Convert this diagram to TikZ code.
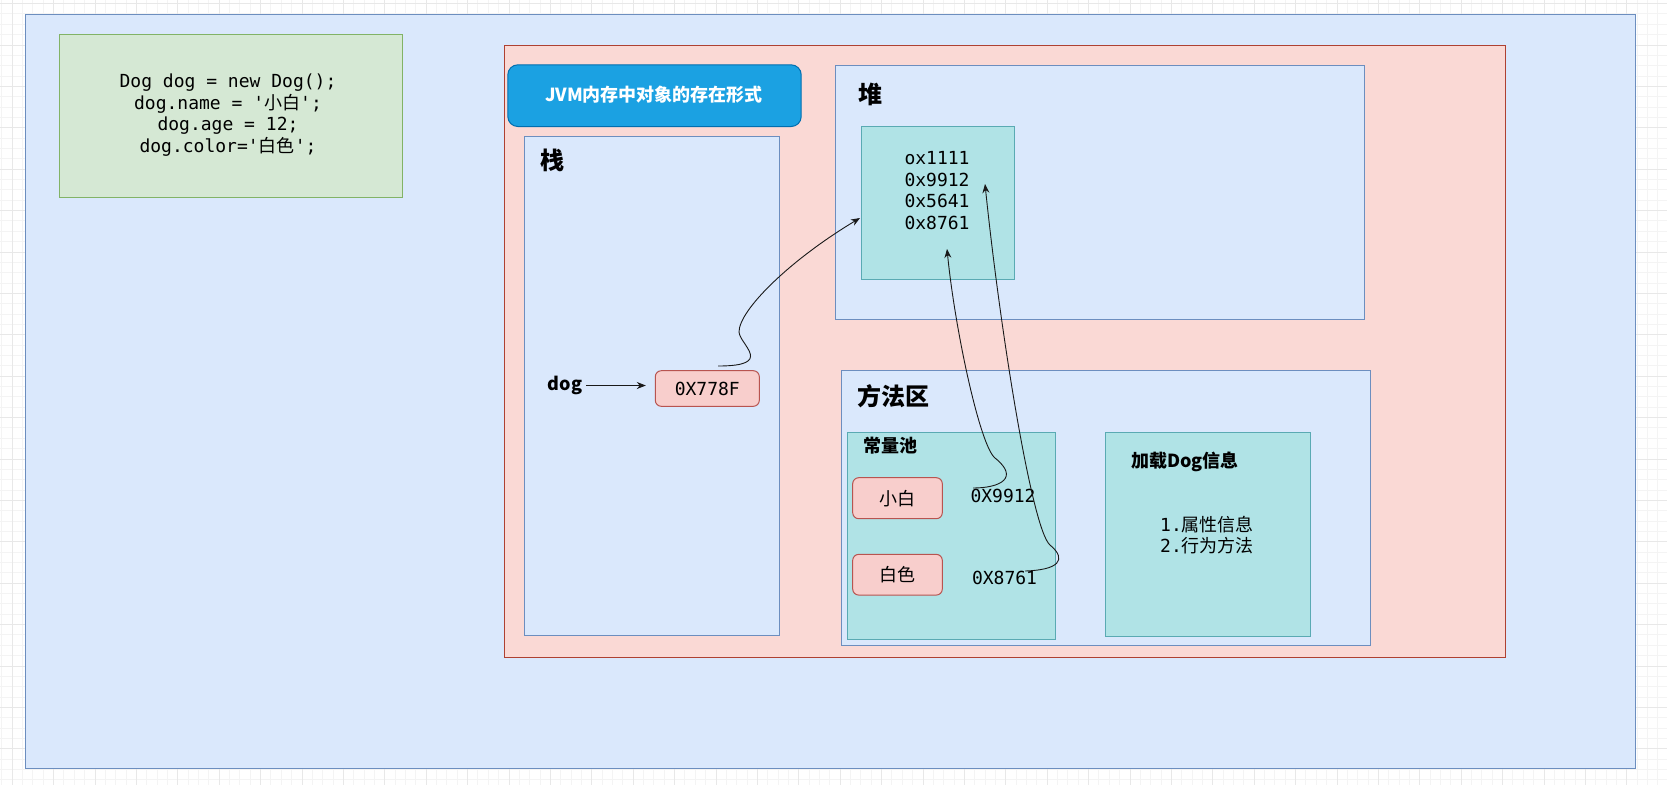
\documentclass[tikz,border=0pt]{standalone}
\usepackage{fontspec}
\usetikzlibrary{arrows.meta}
\newfontfamily\cjk{Noto Sans CJK SC}
\newfontfamily\mono{DejaVu Sans Mono}
\definecolor{outerfill}{HTML}{DAE8FC}
\definecolor{bluestroke}{HTML}{6C8EBF}
\definecolor{greenfill}{HTML}{D5E8D4}
\definecolor{greenstroke}{HTML}{82B366}
\definecolor{pinkfill}{HTML}{FAD9D5}
\definecolor{pinkstroke}{HTML}{AE4132}
\definecolor{rosefill}{HTML}{F8CECC}
\definecolor{rosestroke}{HTML}{B85450}
\definecolor{tealfill}{HTML}{B0E3E6}
\definecolor{tealstroke}{HTML}{5AAAB3}
\definecolor{btnfill}{HTML}{1BA1E2}
\definecolor{btnstroke}{HTML}{006EAF}
\definecolor{gridminor}{HTML}{F4F4F4}
\definecolor{gridmajor}{HTML}{E8E8E8}
\begin{document}
\begin{tikzpicture}[x=1pt,y=-1pt,
  area/.style={draw, line width=1pt, inner sep=0pt, anchor=north west},
  bluebox/.style={area, fill=outerfill, draw=bluestroke},
  tealbox/.style={area, fill=tealfill, draw=tealstroke},
  rosebox/.style={draw=rosestroke, fill=rosefill, line width=1pt, rounded corners=6pt, inner sep=0pt},
  codetxt/.style={font=\mono\fontsize{18}{21.8}\selectfont, align=center, inner sep=0pt},
  cjktxt/.style={font=\cjk\fontsize{18}{21.8}\selectfont, inner sep=0pt},
  boldtxt/.style={font=\cjk\bfseries\fontsize{18}{21.8}\selectfont, inner sep=0pt},
  bigtxt/.style={font=\cjk\bfseries\fontsize{24}{28}\selectfont, inner sep=0pt},
  conn/.style={draw=black!90, line width=0.9pt, -{Stealth[length=9pt,width=7pt]}}
]
\useasboundingbox (0,0) rectangle (1667,785);
\fill[white] (0,0) rectangle (1667,785);
% grid
\foreach \x in {1.75,12.1,...,1667} \draw[gridminor, line width=0.8pt] (\x,0) -- (\x,785);
\foreach \y in {3.5,13.85,...,785} \draw[gridminor, line width=0.8pt] (0,\y) -- (1667,\y);
\foreach \x in {12.1,53.5,...,1667} \draw[gridmajor, line width=0.8pt] (\x,0) -- (\x,785);
\foreach \y in {3.5,44.9,...,785} \draw[gridmajor, line width=0.8pt] (0,\y) -- (1667,\y);

% outer container
\node[bluebox, minimum width=1610.5pt, minimum height=754pt] (outer) at (24.5,13.5) {};
% code box
\node[area, fill=greenfill, draw=greenstroke, minimum width=343.5pt, minimum height=163pt] (code) at (58.5,34) {};
\node[codetxt] (codetext) at (228,115) {Dog dog = new Dog();\\dog.name = '{\cjk 小白}';\\dog.age = 12;\\dog.color='{\cjk 白色}';};

% JVM memory area
\node[area, fill=pinkfill, draw=pinkstroke, minimum width=1001.4pt, minimum height=612.4pt] (jvm) at (504,44.6) {};
\node[area, fill=btnfill, draw=btnstroke, rounded corners=10pt, minimum width=293.4pt, minimum height=61.7pt] (btn) at (507.3,64.3) {};
\node[boldtxt, text=white] (btntext) at (654,95) {JVM内存中对象的存在形式};

% stack
\node[bluebox, minimum width=255.3pt, minimum height=499pt] (stack) at (524,135.7) {};
\node[bigtxt] (stacklabel) at (552.8,160.5) {栈};
\node[boldtxt, inner sep=4pt] (dog) at (565,385.5) {dog};
\node[rosebox, minimum width=104pt, minimum height=35.6pt, font=\mono\fontsize{18}{21.8}\selectfont] (ref) at (707.3,388.5) {0X778F};

% heap
\node[bluebox, minimum width=529.5pt, minimum height=254.2pt] (heap) at (834.5,64.8) {};
\node[bigtxt] (heaplabel) at (870.5,94) {堆};
\node[tealbox, minimum width=153.6pt, minimum height=153pt] (obj) at (860.7,125.7) {};
\node[codetxt, font=\mono\fontsize{18}{21.7}\selectfont] (objtext) at (937,190.5) {ox1111\\0x9912\\0x5641\\0x8761};

% method area
\node[bluebox, minimum width=529.8pt, minimum height=275pt] (method) at (840.5,370.3) {};
\node[bigtxt] (methodlabel) at (893,396) {方法区};
\node[tealbox, minimum width=207.7pt, minimum height=207pt] (pool) at (847.3,432) {};
\node[boldtxt] (poollabel) at (890.7,446) {常量池};
\node[rosebox, minimum width=89.6pt, minimum height=41pt, font=\cjk\fontsize{18}{21.8}\selectfont] (xb) at (897.5,498.2) {小白};
\node[rosebox, minimum width=89.6pt, minimum height=40.7pt, font=\cjk\fontsize{18}{21.8}\selectfont] (bs) at (897.5,574.7) {白色};
\node[codetxt] (addr1) at (1003,496) {0X9912};
\node[codetxt] (addr2) at (1004.5,578) {0X8761};
\node[tealbox, minimum width=204.7pt, minimum height=204pt] (load) at (1105.3,432) {};
\node[boldtxt] (loadlabel) at (1185,462.3) {加载Dog信息};
\node[cjktxt, align=left] (loadtext) at (1207,535) {{\mono 1.}属性信息\\{\mono 2.}行为方法};

% connectors
\coordinate (s1) at (718,366);
\coordinate (e1) at (860,218);
\coordinate (s2) at (973,488);
\coordinate (e2) at (947,249);
\coordinate (s3) at (1025,571);
\coordinate (e3) at (985,184);

\draw[conn] (dog.east) -- ([xshift=-9pt]ref.west |- dog.east);
\draw[conn] (s1) .. controls (775,366) and (740,345) .. (739,332)
               .. controls (739,310) and (790,260) .. (e1);
\draw[conn] (s2) .. controls (1000,488) and (1020,478) .. (995,458)
               .. controls (980,446) and (955,330) .. (e2);
\draw[conn] (s3) .. controls (1058,570) and (1068,560) .. (1050,545)
               .. controls (1032,530) and (1000,330) .. (e3);
\end{tikzpicture}
\end{document}
